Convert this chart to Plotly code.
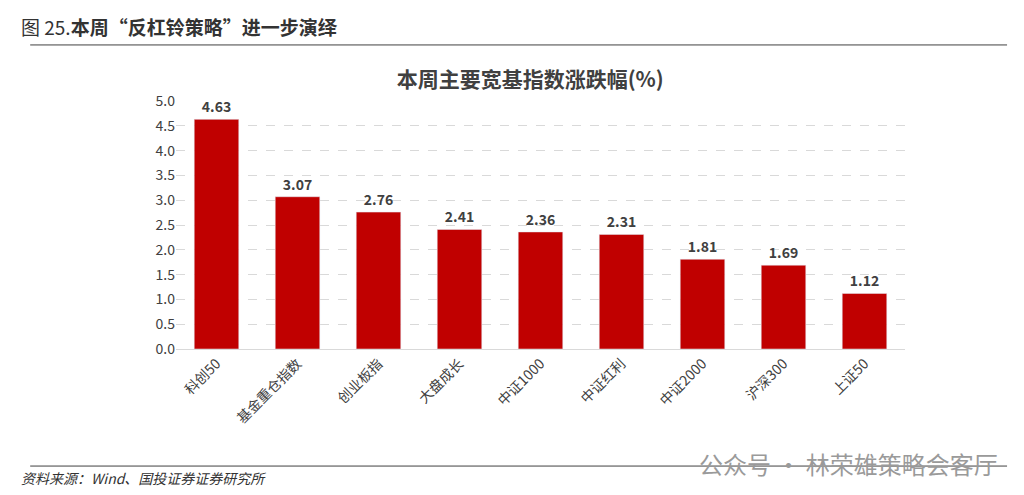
import plotly.graph_objects as go

categories = ["科创50", "基金重仓指数", "创业板指", "大盘成长", "中证1000", "中证红利", "中证2000", "沪深300", "上证50"]
values = [4.63, 3.07, 2.76, 2.41, 2.36, 2.31, 1.81, 1.69, 1.12]
yticks = [0.0, 0.5, 1.0, 1.5, 2.0, 2.5, 3.0, 3.5, 4.0, 4.5, 5.0]

F = "Noto Sans CJK SC"
fig = go.Figure(go.Bar(
    x=categories, y=values, marker_color="#C00000", width=0.55,
    text=[f"<b>{v:.2f}</b>" for v in values], textposition="outside",
    textfont=dict(size=14, color="#404040", family=F), cliponaxis=False,
))
fig.update_layout(
    width=1024, height=495, paper_bgcolor="white", plot_bgcolor="white",
    margin=dict(l=168, r=127, t=93, b=154),
    showlegend=False, font=dict(family=F),
    title=dict(text="<b>本周主要宽基指数涨跌幅(%)</b>", x=0.51, xanchor="center",
               yref="container", y=1 - 72 / 495, yanchor="middle",
               font=dict(size=21, color="#404040", family=F)),
    xaxis=dict(tickangle=-45, tickfont=dict(size=14, color="#404040"),
               showline=True, linecolor="#d9d9d9", ticks=""),
    yaxis=dict(range=[0, 5.0], tickvals=yticks, tickformat=".1f",
               tickfont=dict(size=14, color="#404040"),
               gridcolor="#d9d9d9", griddash="dash", zeroline=False, showline=False),
    shapes=[
        dict(type="line", xref="paper", yref="paper", x0=-0.2, x1=1.14, y0=1.226, y1=1.226,
             line=dict(color="#404040", width=1)),
        dict(type="line", xref="paper", yref="paper", x0=-0.2, x1=1.14, y0=-0.472, y1=-0.472,
             line=dict(color="#404040", width=1)),
    ],
    annotations=[
        dict(text="图 25.<b>本周“反杠铃策略”进一步演绎</b>", xref="paper", yref="paper",
             x=-0.215, y=1.30, xanchor="left", yanchor="middle", showarrow=False,
             font=dict(size=19, color="#333333", family=F)),
        dict(text="<i>资料来源：Wind、国投证券证券研究所</i>", xref="paper", yref="paper",
             x=-0.215, y=-0.52, xanchor="left", yanchor="middle", showarrow=False,
             font=dict(size=14, color="#333333", family=F)),
        dict(text="公众号 · 林荣雄策略会客厅", xref="paper", yref="paper",
             x=1.13, y=-0.46, xanchor="right", yanchor="middle", showarrow=False,
             font=dict(size=24, color="#9a9a9a", family=F)),
    ],
)
fig.write_html("out.html")
